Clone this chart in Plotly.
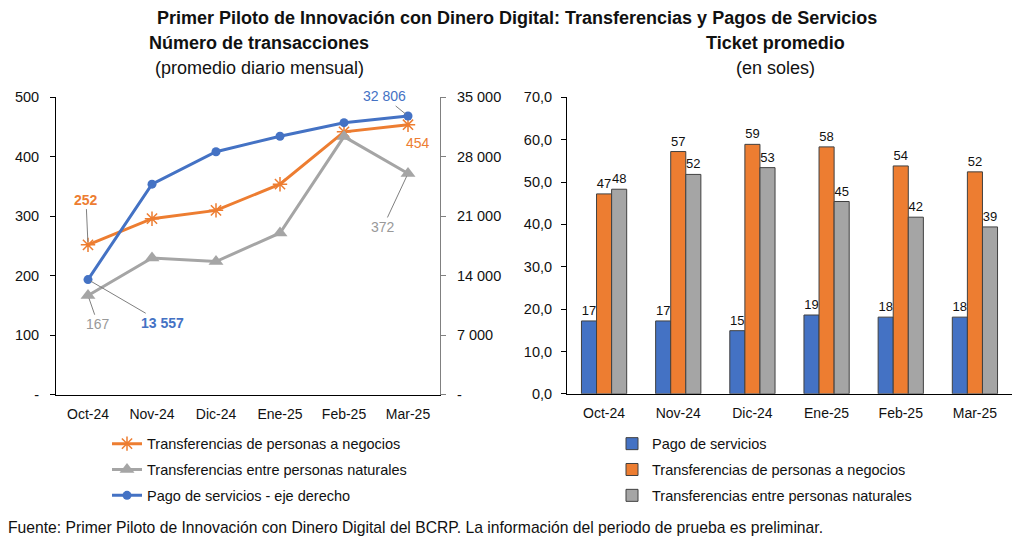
import plotly.graph_objects as go

W, H = 1019, 546

# ---- data ----
meses = ["Oct-24", "Nov-24", "Dic-24", "Ene-25", "Feb-25", "Mar-25"]

# numero de transacciones (promedio diario mensual)
trans_negocios = [252, 296, 310, 354, 442, 454]
trans_naturales = [167, 230, 224, 272, 434, 372]
pago_servicios = [13557, 24780, 28600, 30420, 32020, 32806]   # eje derecho

# ticket promedio (en soles)
ticket_servicios = [17.2, 17.2, 14.9, 18.6, 18.1, 18.1]
ticket_negocios = [47.2, 57.2, 58.9, 58.3, 53.8, 52.4]
ticket_naturales = [48.3, 51.8, 53.4, 45.4, 41.7, 39.4]

left_ticks = [0, 100, 200, 300, 400, 500]
left_ticktext = ["-", "100", "200", "300", "400", "500"]
right_ticks = [0, 7000, 14000, 21000, 28000, 35000]
right_ticktext = ["-", "7 000", "14 000", "21 000", "28 000", "35 000"]

AZUL = "#4472C4"
NARANJA = "#ED7D31"
GRIS = "#A5A5A5"
TXT = "#111111"
FONT = "Liberation Sans, Arial, sans-serif"

# la captura comprime un poco en vertical; se corrige al ubicar en papel
SY, OY = 0.9725, 7.5


def px_x(p):
    return p / W


def px_y(p):
    return 1 - ((p - OY) / SY) / H


def miles(v):
    return f"{v:,}".replace(",", " ")


fig = go.Figure()

# ---- panel izquierdo: lineas ----
fig.add_trace(go.Scatter(
    x=meses, y=trans_negocios, name="Transferencias de personas a negocios",
    mode="lines+markers", line=dict(color=NARANJA, width=3),
    marker=dict(symbol="asterisk-open", size=12, line=dict(color=NARANJA, width=1.5)),
    xaxis="x", yaxis="y", legend="legend", legendgroup="a"))
fig.add_trace(go.Scatter(
    x=meses, y=trans_naturales, name="Transferencias entre personas naturales",
    mode="lines+markers", line=dict(color=GRIS, width=3),
    marker=dict(symbol="triangle-up", size=13, color=GRIS),
    xaxis="x", yaxis="y", legend="legend", legendgroup="b"))
fig.add_trace(go.Scatter(
    x=meses, y=pago_servicios, name="Pago de servicios - eje derecho",
    mode="lines+markers", line=dict(color=AZUL, width=3),
    marker=dict(symbol="circle", size=9, color=AZUL),
    xaxis="x", yaxis="y2", legend="legend", legendgroup="c"))

# ---- panel derecho: barras ----
for nombre, vals, col, grp in [
    ("Pago de servicios", ticket_servicios, AZUL, "d"),
    ("Transferencias de personas a negocios", ticket_negocios, NARANJA, "e"),
    ("Transferencias entre personas naturales", ticket_naturales, GRIS, "f"),
]:
    fig.add_trace(go.Bar(
        x=meses, y=vals, name=nombre, marker=dict(color=col, line=dict(color="#404040", width=1)),
        text=[f"{v:.0f}" for v in vals], textposition="outside", constraintext="none",
        cliponaxis=False, textfont=dict(size=13, color=TXT),
        xaxis="x3", yaxis="y3", legend="legend2", legendgroup=grp))

# ---- etiquetas de datos del panel izquierdo ----
anns = []


def etiqueta(i, serie, yref, color, ax, ay, bold=False, arrow=True):
    v = serie[i]
    txt = miles(v)
    if bold:
        txt = f"<b>{txt}</b>"
    d = dict(x=meses[i], y=v, xref="x", yref=yref, text=txt,
             font=dict(size=14, color=color), showarrow=arrow)
    if arrow:
        d.update(ax=ax, ay=ay / SY, arrowhead=0, arrowwidth=1, arrowcolor="#7f7f7f", standoff=3)
    else:
        d.update(xshift=ax, yshift=-ay / SY)
    anns.append(d)


etiqueta(0, trans_negocios, "y", NARANJA, -2, -44, bold=True)
etiqueta(5, trans_negocios, "y", NARANJA, 10, 18, arrow=False)
etiqueta(0, trans_naturales, "y", "#999999", 10, 28)
etiqueta(5, trans_naturales, "y", "#999999", -25, 52)
etiqueta(0, pago_servicios, "y2", AZUL, 74, 42, bold=True)
etiqueta(5, pago_servicios, "y2", AZUL, -24, -19)

# ---- titulos y fuente ----
anns += [
    dict(text="<b>Primer Piloto de Innovación con Dinero Digital: Transferencias y Pagos de Servicios</b>",
         x=px_x(517), y=px_y(18), font=dict(size=18, color=TXT)),
    dict(text="<b>Número de transacciones</b>", x=px_x(259), y=px_y(43), font=dict(size=18, color=TXT)),
    dict(text="(promedio diario mensual)", x=px_x(259), y=px_y(68), font=dict(size=18, color=TXT)),
    dict(text="<b>Ticket promedio</b>", x=px_x(775), y=px_y(43), font=dict(size=18, color=TXT)),
    dict(text="(en soles)", x=px_x(775), y=px_y(68), font=dict(size=18, color=TXT)),
    dict(text="Fuente: Primer Piloto de Innovación con Dinero Digital del BCRP. La información del periodo de prueba es preliminar.",
         x=px_x(6), y=px_y(528), xanchor="left", font=dict(size=15.7, color=TXT)),
]
for a in anns[-6:]:
    a.update(xref="paper", yref="paper", showarrow=False, yanchor="middle")
    a.setdefault("xanchor", "center")

eje_x = dict(showline=True, linecolor="#000000", linewidth=1, ticks="", showgrid=False,
             tickfont=dict(size=14, color=TXT), range=[-0.5, 5.5], fixedrange=True,
             ticklabelstandoff=6)

fig.update_layout(
    width=W, height=H, margin=dict(l=0, r=0, t=0, b=0),
    paper_bgcolor="white", plot_bgcolor="white",
    font=dict(family=FONT, size=14, color=TXT),
    separators=", ",
    barmode="group", bargap=0.39, bargroupgap=0,
    xaxis=dict(eje_x, domain=[px_x(56), px_x(440)], anchor="y"),
    yaxis=dict(domain=[px_y(395), px_y(97)], range=[0, 500], tickvals=left_ticks,
               ticktext=left_ticktext, showline=True, linecolor="#000000", ticks="outside",
               ticklen=5, tickcolor="#000000", showgrid=False, zeroline=False,
               tickfont=dict(size=14.5, color=TXT), anchor="x", ticklabelstandoff=8),
    yaxis2=dict(domain=[px_y(395), px_y(97)], range=[0, 35000], tickvals=right_ticks,
                ticktext=right_ticktext, showline=True, linecolor="#808080", ticks="outside",
                ticklen=5, tickcolor="#808080", showgrid=False, zeroline=False,
                tickfont=dict(size=14.5, color=TXT), overlaying="y", side="right", anchor="x",
                ticklabelstandoff=8),
    xaxis3=dict(eje_x, domain=[px_x(567), px_x(1012)], anchor="y3"),
    yaxis3=dict(domain=[px_y(394), px_y(97)], range=[0, 70], dtick=10, tickformat=".1f",
                showline=True, linecolor="#000000", ticks="outside", ticklen=5,
                tickcolor="#000000", showgrid=False, zeroline=False,
                tickfont=dict(size=14.5, color=TXT), anchor="x3", ticklabelstandoff=6),
    legend=dict(x=px_x(107), y=px_y(428), xanchor="left", yanchor="top",
                font=dict(size=14.5, color=TXT), traceorder="grouped", tracegroupgap=4,
                bgcolor="rgba(0,0,0,0)", itemwidth=30),
    legend2=dict(x=px_x(612), y=px_y(428), xanchor="left", yanchor="top",
                 font=dict(size=14.5, color=TXT), traceorder="grouped", tracegroupgap=4,
                 bgcolor="rgba(0,0,0,0)", itemwidth=30),
    annotations=anns,
    showlegend=True,
)

# la pagina sin margen ni barras de desplazamiento, el grafico ocupa la ventana exacta
ajuste = ("document.documentElement.style.overflow='hidden';"
          "document.body.style.overflow='hidden';"
          "document.body.style.margin='0';")
fig.write_html("out.html", config={"displayModeBar": False}, post_script=ajuste)
